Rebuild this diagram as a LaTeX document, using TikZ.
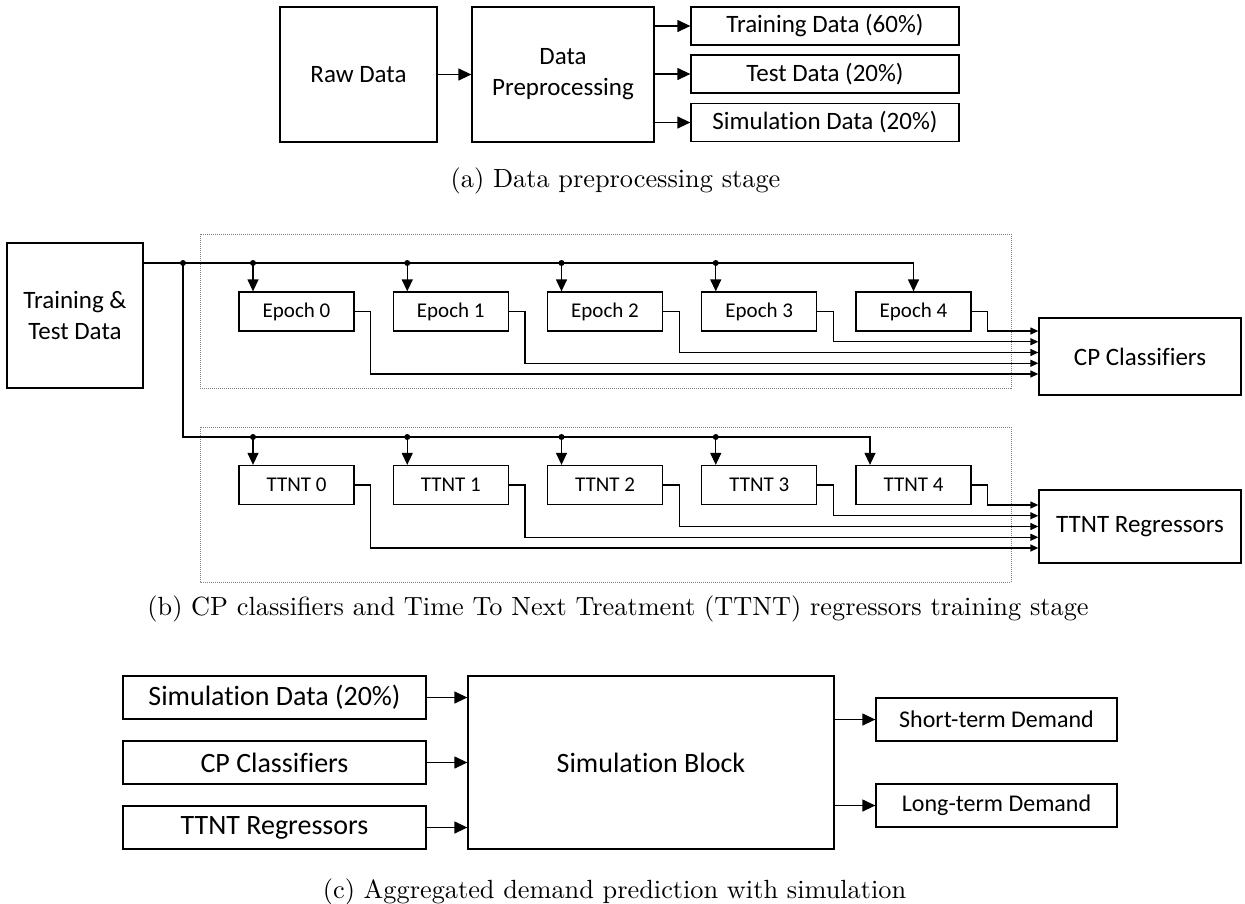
\documentclass[tikz,border=0pt]{standalone}
\usepackage{fontspec}
\newfontfamily\calfont{Carlito}[Ligatures=CommonOff]
\usetikzlibrary{arrows.meta}
\begin{document}
\begin{tikzpicture}[x=1pt,y=-1pt,
  basebox/.style={draw, line width=1.3pt, inner sep=0pt, align=center},
  abox/.style={basebox, font={\calfont\fontsize{25}{31}\selectfont}},
  bbox/.style={basebox, font={\calfont\fontsize{25}{31}\selectfont}},
  ebox/.style={basebox, minimum width=115pt, minimum height=39pt, font={\calfont\fontsize{21}{25}\selectfont}},
  cbox/.style={basebox, font={\calfont\fontsize{28}{32}\selectfont}},
  obox/.style={basebox, font={\calfont\fontsize{24}{28}\selectfont}},
  captxt/.style={inner sep=0pt, scale=2.63, font={\fontsize{10}{12}\selectfont}},
  conn/.style={line width=1.3pt},
  arrA/.style={conn, -{Triangle[length=13pt,width=12pt]}},
  arrB/.style={conn, -{Triangle[length=12pt,width=11pt]}},
  arrS/.style={conn, -{Triangle[length=8pt,width=7pt]}},
  dotbox/.style={draw=gray, line width=0.8pt, dash pattern=on 1pt off 1pt},
  jdot/.style={circle, fill, inner sep=0pt, minimum size=6pt}
]
\useasboundingbox (0,0) rectangle (1245,903);

% ---------- (a) ----------
\node[abox, minimum width=157pt, minimum height=135pt] (raw) at (358.5,74.5) {Raw Data};
\node[abox, minimum width=182pt, minimum height=135pt] (prep) at (563,74.5) {Data\\Preprocessing};
\node[abox, minimum width=268pt, minimum height=38pt] (train) at (825,26) {Training Data (60\%)};
\node[abox, minimum width=268pt, minimum height=38pt] (test) at (825,74) {Test Data (20\%)};
\node[abox, minimum width=268pt, minimum height=38pt] (simd) at (825,122.5) {Simulation Data (20\%)};
\draw[arrA] (raw) -- (prep);
\foreach \n in {train,test,simd} \draw[arrA] (prep.east |- \n.west) -- (\n.west);
\node[captxt, anchor=base] (capa) at (615.5,187.5) {(a) Data preprocessing stage};

% ---------- (b) ----------
\node[bbox, minimum width=136pt, minimum height=145pt] (tt) at (75,315.5) {Training \&\\Test Data};
\draw[dotbox] (200,234) rectangle (1011,388);
\draw[dotbox] (200,427) rectangle (1011,582);
\foreach \k in {0,...,4} {
  \pgfmathsetmacro\cx{296.5+154.25*\k}
  \node[ebox] (e\k) at (\cx,311.5) {Epoch \k};
  \node[ebox] (t\k) at (\cx,485) {TTNT \k};
}
\node[bbox, minimum width=202pt, minimum height=77pt] (cp) at (1140,356.5) {CP Classifiers};
\node[bbox, minimum width=202pt, minimum height=73pt] (ttr) at (1140,526.5) {TTNT Regressors};

\coordinate (bs) at (143,263);
\coordinate (j) at (183,263);
\coordinate (tc) at (183,437);
\coordinate (td4) at (870,437);
\draw[arrB] (bs) -- (e4.north |- bs) -- (e4.north);
\draw[arrB] (j) -- (tc) -- (td4) -- (td4 |- t4.north);
\node[jdot] (jd) at (j) {};
\foreach \k in {0,...,3} {
  \pgfmathsetmacro\ax{253+154.25*\k}
  \coordinate (ed\k) at (\ax,263);
  \coordinate (tdd\k) at (\ax,437);
  \node[jdot] at (ed\k) {};
  \node[jdot] at (tdd\k) {};
  \draw[arrB] (ed\k) -- (ed\k |- e\k.north);
  \draw[arrB] (tdd\k) -- (tdd\k |- t\k.north);
}
\foreach \k/\off in {0/17.5,1/6.75,2/-4,3/-14.75,4/-25.5} {
  \path (cp.west) ++(0,\off) coordinate (cpi\k);
  \draw[arrS] (e\k.east) -- ++(16,0) |- (cpi\k);
}
\foreach \k/\off in {0/21.5,1/10.75,2/0,3/-10.75,4/-21.5} {
  \path (ttr.west) ++(0,\off) coordinate (tri\k);
  \draw[arrS] (t\k.east) -- ++(16,0) |- (tri\k);
}
\node[captxt, anchor=base] (capb) at (618,615) {(b) CP classifiers and Time To Next Treatment (TTNT) regressors training stage};

% ---------- (c) ----------
\node[cbox, minimum width=303pt, minimum height=43pt] (ci1) at (274.5,697.5) {Simulation Data (20\%)};
\node[cbox, minimum width=303pt, minimum height=43pt] (ci2) at (274.5,762.5) {CP Classifiers};
\node[cbox, minimum width=303pt, minimum height=43pt] (ci3) at (274.5,827.5) {TTNT Regressors};
\node[cbox, minimum width=366pt, minimum height=173pt] (sb) at (651,762.5) {Simulation Block};
\node[obox, minimum width=241pt, minimum height=43pt] (st) at (996.5,719.5) {Short-term Demand};
\node[obox, minimum width=241pt, minimum height=43pt] (lt) at (996.5,805.5) {Long-term Demand};
\foreach \k in {1,2,3} \draw[arrA] (ci\k.east) -- (sb.west |- ci\k.east);
\draw[arrA] (sb.east |- st.west) -- (st.west);
\draw[arrA] (sb.east |- lt.west) -- (lt.west);
\node[captxt, anchor=base] (capc) at (614.5,898.5) {(c) Aggregated demand prediction with simulation};
\end{tikzpicture}
\end{document}
